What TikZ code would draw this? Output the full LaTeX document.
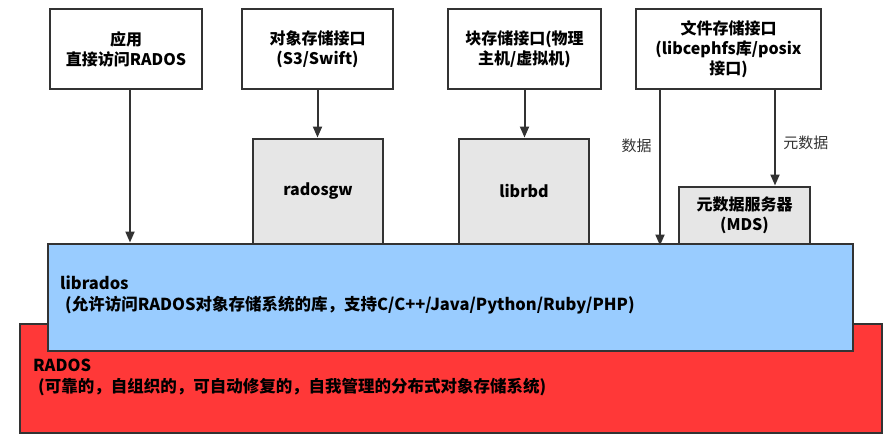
\documentclass[tikz,border=0pt]{standalone}
\usepackage{fontspec}
\setmainfont{Noto Sans CJK SC}
\usetikzlibrary{positioning}
\usetikzlibrary{arrows.meta,calc}
\definecolor{edgegray}{HTML}{333333}
\definecolor{libblue}{HTML}{99CCFF}
\definecolor{radosred}{HTML}{FF3838}
\definecolor{libgray}{HTML}{E6E6E6}
\tikzset{
	x=1pt, y=-1pt,
	box/.style = {rectangle, draw=edgegray, line width=2pt, fill=white, align=center,
		inner sep=0pt, font=\fontsize{16}{20}\selectfont\bfseries},
	lib/.style = {box, fill=libgray},
	layer/.style = {rectangle, draw=edgegray, line width=2pt, inner sep=0pt},
	txt/.style = {align=left, anchor=north west, inner sep=0pt,
		font=\fontsize{16.5}{21}\selectfont\bfseries},
	flow/.style = {draw=edgegray, line width=2pt, -{Triangle[length=11pt,width=9pt]}},
	tag/.style = {font=\fontsize{15}{16}\selectfont, text=edgegray},
}
\begin{document}
\begin{tikzpicture}
	\useasboundingbox (0,0) rectangle (895,440);
	% layers
	\node (rados) [layer, fill=radosred, minimum width=862pt, minimum height=109pt] at (451,378) {};
	\node (librados) [layer, fill=libblue, minimum width=805pt, minimum height=107pt] at (450.5,297) {};
	\node (radostxt) [txt] at (33,359) {RADOS\\\hspace{0.3em}(可靠的，自组织的，可自动修复的，自我管理的分布式对象存储系统)};
	\node (libtxt) [txt] at (60,276) {librados\\\hspace{0.3em}(允许访问RADOS对象存储系统的库，支持C/C++/Java/Python/Ruby/PHP)};
	% clients
	\node (app) [box, minimum width=152pt, minimum height=80pt] at (126,49) {应用\\直接访问RADOS};
	\node (objif) [box, minimum width=151pt, minimum height=80pt] at (317.5,49) {对象存储接口\\(S3/Swift)};
	\node (blkif) [box, minimum width=153pt, minimum height=80pt] at (524.5,49) {块存储接口(物理\\主机/虚拟机)};
	\node (fsif) [box, minimum width=185pt, minimum height=80pt] at (728.5,49) {文件存储接口\\(libcephfs库/posix\\接口)};
	% libs
	\node (radosgw) [lib, minimum width=130pt, minimum height=105pt] at (318,191) {radosgw};
	\node (librbd) [lib, minimum width=130pt, minimum height=105pt] at (524,191) {librbd};
	\node (mds) [lib, minimum width=131pt, minimum height=57pt] at (744.5,215) {元数据服务器\\(MDS)};
	\coordinate (datafrom) at (660,89);
	\coordinate (metafrom) at (775,89);
	% arrows
	\draw [flow] ([xshift=4pt]app.south) -- ([xshift=4pt]app.south |- librados.north);
	\draw [flow] (objif.south) -- (objif.south |- radosgw.north);
	\draw [flow] (blkif.south) -- (blkif.south |- librbd.north);
	\draw [flow] (datafrom) -- node [tag, pos=0.36, left=4pt] {数据} ([yshift=-3pt]datafrom |- librados.north);
	\draw [flow] (metafrom) -- node [tag, pos=0.56, right=4pt] {元数据} (metafrom |- mds.north);
\end{tikzpicture}
\end{document}
